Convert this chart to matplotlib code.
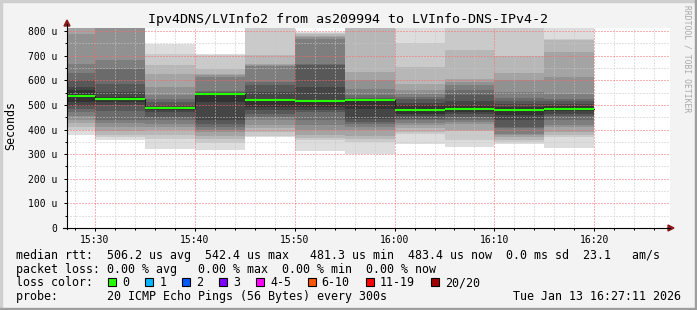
import numpy as np
import matplotlib
matplotlib.use("Agg")
import matplotlib.pyplot as plt
from matplotlib.patches import Rectangle, Polygon
from matplotlib.lines import Line2D

W, H = 697, 310

title = "Ipv4DNS/LVInfo2 from as209994 to LVInfo-DNS-IPv4-2"

# start of each 5 minute step
starts = ["15:25", "15:30", "15:35", "15:40", "15:45", "15:50",
          "15:55", "16:00", "16:05", "16:10", "16:15"]
step_min = 5

# median rtt per step (us)
median = [537, 523, 486, 543, 519, 515, 519, 481, 485, 481, 485]

# the 20 sorted pings of each step (us), drawn as smoke
pings = [
    [379, 398, 410, 425, 440, 455, 470, 482, 495, 512, 562, 575, 600, 630, 665, 790, 830, 850, 870, 900],  # 15:25
    [356, 368, 380, 395, 410, 425, 437, 475, 498, 513, 532, 553, 587, 648, 682, 840, 860, 880, 900, 930],  # 15:30
    [322, 362, 380, 400, 412, 424, 437, 450, 471, 481, 491, 500, 512, 525, 539, 573, 627, 661, 709, 746],  # 15:35
    [318, 345, 362, 376, 390, 397, 412, 424, 437, 512, 539, 548, 553, 558, 614, 620, 627, 648, 705, 709],  # 15:40
    [368, 375, 390, 405, 420, 437, 450, 465, 478, 491, 519, 553, 580, 594, 660, 664, 668, 705, 840, 880],  # 15:45
    [311, 356, 365, 380, 397, 420, 440, 471, 480, 491, 519, 573, 661, 665, 770, 776, 782, 787, 791, 795],  # 15:50
    [301, 349, 360, 375, 397, 410, 424, 430, 444, 485, 519, 522, 528, 539, 566, 600, 634, 830, 850, 870],  # 15:55
    [340, 383, 390, 407, 420, 428, 437, 444, 455, 464, 498, 510, 526, 532, 546, 560, 587, 655, 750, 850],  # 16:00
    [331, 356, 395, 400, 424, 430, 440, 452, 462, 471, 500, 516, 539, 560, 580, 592, 607, 725, 840, 870],  # 16:05
    [341, 350, 358, 369, 378, 383, 405, 410, 440, 458, 491, 505, 515, 529, 553, 600, 630, 698, 840, 870],  # 16:10
    [327, 369, 380, 390, 410, 417, 437, 455, 465, 475, 494, 505, 515, 525, 546, 614, 716, 765, 770, 860],  # 16:15
]

x_ticks = ["15:30", "15:40", "15:50", "16:00", "16:10", "16:20"]
y_ticks = [0, 100, 200, 300, 400, 500, 600, 700, 800]

loss_labels = ["0", "1", "2", "3", "4-5", "6-10", "11-19", "20/20"]
loss_colors = ["#26ff00", "#00b8ff", "#0059ff", "#7e00ff", "#ff00ff", "#ff5500", "#ff0000", "#a10000"]

line_rtt = "median rtt:  506.2 us avg  542.4 us max   481.3 us min  483.4 us now  0.0 ms sd  23.1   am/s"
line_loss = "packet loss: 0.00 % avg   0.00 % max  0.00 % min  0.00 % now"
line_probe = "probe:       20 ICMP Echo Pings (56 Bytes) every 300s"
stamp = "Tue Jan 13 16:27:11 2026"


def to_min(t):
    h, m = t.split(":")
    return (int(h) - 15) * 60 + int(m)


def fx(px):
    return px / W


def fy(py):
    return 1 - py / H


plt.rcParams["font.family"] = ["DejaVu Sans Mono"]

fig = plt.figure(figsize=(W / 100, H / 100), dpi=100, facecolor="#f3f3f3")
ax = fig.add_axes([fx(67), fy(228), (670 - 67) / W, 200 / H])
ax.set_facecolor("white")

start_min = [to_min(s) for s in starts]

# smoke: outer pairs light, inner pairs dark
grays = []
for i in range(1, 11):
    g = int(190 / 10 * (10 - i)) + 50
    grays.append("#%02x%02x%02x" % (g, g, g))

for s, p in zip(start_min, pings):
    for i in range(10):
        lo = p[i]
        hi = p[19 - i]
        ax.bar(s, hi - lo, bottom=lo, width=step_min, align="edge",
               color=grays[i], linewidth=0, antialiased=False, zorder=1)

# median line
xs = start_min + [start_min[-1] + step_min]
ys = median + [median[-1]]
ax.step(xs, ys, where="post", color="#202020", lw=0.72, zorder=3)
ax.hlines(median, start_min, [s + step_min for s in start_min],
          colors="#26ff00", lw=1.5, zorder=4)

x_left = 30 - 28 / 9.986
x_right = 30 + (670 - 95) / 9.986
ax.set_xlim(x_left, x_right)
ax.set_ylim(0, 813)

ax.set_xticks([to_min(t) for t in x_ticks])
ax.set_xticklabels(x_ticks)
ax.set_xticks(np.arange(28, 88, 2), minor=True)
ax.set_yticks(y_ticks)
ax.set_yticklabels([("%d u" % v) if v else "0" for v in y_ticks])
ax.set_yticks(np.arange(50, 813, 100), minor=True)

# dotted grid drawn over the smoke, like rrdtool
ax.grid(which="major", color=(1.0, 0.4, 0.4, 0.6), ls=(0, (1, 2)), lw=0.72)
ax.grid(which="minor", color=(0.78, 0.78, 0.78, 0.9), ls=(0, (1, 2)), lw=0.72)
ax.set_axisbelow(False)

for sp in ax.spines.values():
    sp.set_visible(False)

ax.tick_params(which="major", length=2, width=0.72, color="black", labelsize=7, pad=3)
ax.tick_params(which="minor", length=1.2, width=0.72, color="black")
ax.tick_params(axis="y", which="major", pad=5)

# axes with arrows
fig.add_artist(Line2D([fx(67), fx(67)], [fy(228.5), fy(24)], color="black", lw=0.8))
fig.add_artist(Line2D([fx(63), fx(670)], [fy(228), fy(228)], color="black", lw=0.8))
fig.add_artist(Polygon([[fx(64), fy(26)], [fx(70), fy(26)], [fx(67), fy(20)]],
                       closed=True, color="#8b1a1a", transform=fig.transFigure))
fig.add_artist(Polygon([[fx(668), fy(225)], [fx(668), fy(231)], [fx(674), fy(228)]],
                       closed=True, color="#8b1a1a", transform=fig.transFigure))

# texts
fig.text(0.5, fy(19), title, ha="center", va="center", fontsize=9.6)
fig.text(fx(11), fy(125), "Seconds", rotation=90, ha="center", va="center", fontsize=8.4)
fig.text(fx(687), fy(59), "RRDTOOL / TOBI OETIKER", rotation=270, ha="center", va="center",
         fontsize=5.8, color="#a8a8a8")

fig.text(fx(16), fy(259), line_rtt, ha="left", va="baseline", fontsize=8.4)
fig.text(fx(16), fy(272.5), line_loss, ha="left", va="baseline", fontsize=8.4)
fig.text(fx(16), fy(286.5), "loss color:", ha="left", va="baseline", fontsize=8.4)
fig.text(fx(16), fy(300.3), line_probe, ha="left", va="baseline", fontsize=8.4)
fig.text(fx(513), fy(300.3), stamp, ha="left", va="baseline", fontsize=8.4)

sq_x = 108.3
for lab, col in zip(loss_labels, loss_colors):
    fig.add_artist(Rectangle((fx(sq_x), fy(286)), 8 / W, 8 / H, facecolor=col,
                             edgecolor="black", lw=0.8, transform=fig.transFigure))
    fig.text(fx(sq_x + 14), fy(286.5), lab, ha="left", va="baseline", fontsize=8.4)
    sq_x += 30 + len(lab) * 7.03

# frame shading
fig.add_artist(Rectangle((0, 0), 2 / W, 1, color="#cfcfcf", transform=fig.transFigure))
fig.add_artist(Rectangle((0, fy(2)), 1, 2 / H, color="#cfcfcf", transform=fig.transFigure))
fig.add_artist(Rectangle((fx(695), 0), 2 / W, 1, color="#9e9e9e", transform=fig.transFigure))
fig.add_artist(Rectangle((0, 0), 1, 2 / H, color="#9e9e9e", transform=fig.transFigure))

fig.savefig("out.png", dpi=100, facecolor=fig.get_facecolor())
